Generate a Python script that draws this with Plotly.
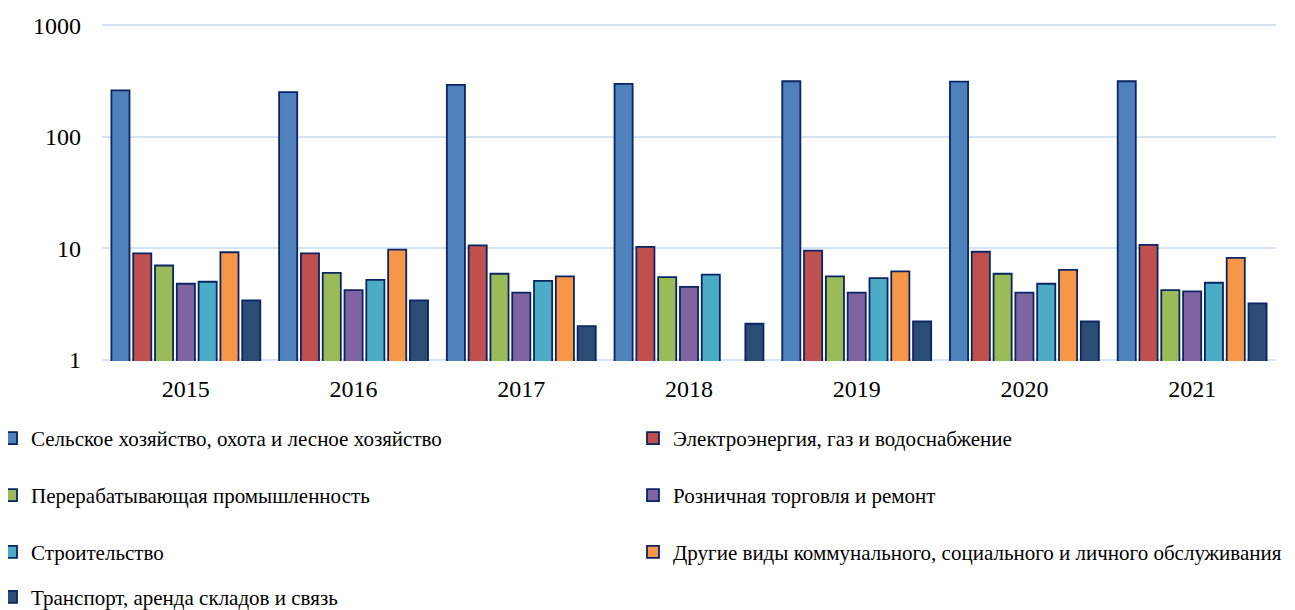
import plotly.graph_objects as go

years = ["2015", "2016", "2017", "2018", "2019", "2020", "2021"]

series_names = [
    "Сельское хозяйство, охота и лесное хозяйство",
    "Электроэнергия, газ и водоснабжение",
    "Перерабатывающая промышленность",
    "Розничная торговля и ремонт",
    "Строительство",
    "Другие виды коммунального, социального и личного обслуживания",
    "Транспорт, аренда складов и связь",
]

agriculture = [261, 252, 292, 298, 315, 313, 315]
electricity = [9.0, 9.0, 10.6, 10.3, 9.5, 9.3, 10.7]
manufacturing = [7.0, 6.0, 5.9, 5.5, 5.6, 5.9, 4.2]
retail = [4.8, 4.2, 4.0, 4.5, 4.0, 4.0, 4.1]
construction = [5.0, 5.2, 5.1, 5.8, 5.4, 4.8, 4.9]
other_services = [9.2, 9.7, 5.6, None, 6.2, 6.4, 8.2]
transport = [3.4, 3.4, 2.0, 2.1, 2.2, 2.2, 3.2]

values = [agriculture, electricity, manufacturing, retail, construction, other_services, transport]
colors = ["#4F81BD", "#C0504D", "#9BBB59", "#8064A2", "#4BACC6", "#F79646", "#2B4C74"]

# page has an 8px body margin; figure is sized/offset to compensate
OFF = 8
PAD = 0.012           # log-decade padding so edge gridlines are drawn
DEC = 335 / 3         # pixels per decade
W, H = 1295 - OFF, 610 - OFF
L, R = 102 - OFF, 19
T = 25 - OFF - PAD * DEC
B = 250 - PAD * DEC
pw, ph = W - L - R, H - T - B

# legend positions in page pixels: (legend left edge, row centre)
legend_pos = [
    (-9, 439), (633, 439),
    (-9, 496), (633, 496),
    (-9, 553), (633, 553),
    (-9, 598),
]

fig = go.Figure()
layout_legends = {}
for i, (name, vals, col) in enumerate(zip(series_names, values, colors)):
    lg = "legend" if i == 0 else f"legend{i+1}"
    fig.add_trace(go.Bar(
        x=years, y=vals, name=name,
        marker=dict(color=col, line=dict(color="#0B2463", width=1.8)),
        legend=lg,
    ))
    px_, py_ = legend_pos[i]
    px_ -= OFF
    py_ -= OFF
    layout_legends[lg] = dict(
        x=(px_ - L) / pw, y=(H - B - py_) / ph,
        xanchor="left", yanchor="middle",
        bgcolor="rgba(0,0,0,0)", borderwidth=0,
        font=dict(family="Liberation Serif", size=21, color="#000000"),
        itemclick=False, itemdoubleclick=False,
    )

fig.update_layout(
    width=W, height=H,
    margin=dict(l=L, r=R, t=T, b=B, autoexpand=False),
    paper_bgcolor="white", plot_bgcolor="white",
    barmode="group", bargap=0.09, bargroupgap=0.17,
    showlegend=True,
    font=dict(family="Liberation Serif", size=24, color="#000000"),
    xaxis=dict(
        type="category", showgrid=False, showline=False,
        ticks="", tickfont=dict(family="Liberation Serif", size=24),
        ticklabelstandoff=11,
    ),
    yaxis=dict(
        type="log", range=[-PAD, 3 + PAD],
        tickvals=[1, 10, 100, 1000], ticktext=["1", "10", "100", "1000"],
        showgrid=True, gridcolor="#D6E3F3", gridwidth=1.5,
        showline=False, zeroline=False, ticks="",
        tickfont=dict(family="Liberation Serif", size=24),
        ticklabelstandoff=20,
    ),
    **layout_legends,
)

fig.write_html("out.html")
